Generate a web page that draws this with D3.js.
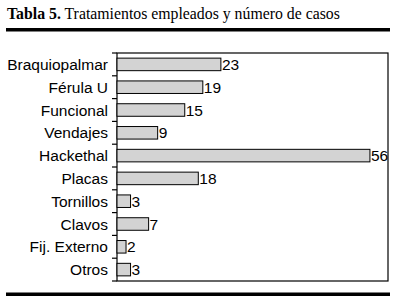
<!DOCTYPE html>
<html>
<head>
<meta charset="utf-8">
<script src="https://cdn.jsdelivr.net/npm/d3@7"></script>
<style>
  body { margin: 0; background: #fff; }
  svg { display: block; }
</style>
</head>
<body>
<div id="container"></div>
<script>
/* DATA */
const categories = ["Braquiopalmar", "Férula U", "Funcional", "Vendajes", "Hackethal",
  "Placas", "Tornillos", "Clavos", "Fij. Externo", "Otros"];
const casos = [23, 19, 15, 9, 56, 18, 3, 7, 2, 3];

const width = 398, height = 303;
const plot = { left: 117, right: 388, top: 53, bottom: 281 };

const data = categories.map((c, i) => ({ name: c, value: casos[i] }));

const svg = d3.select("#container")
  .append("svg")
  .attr("width", width)
  .attr("height", height);

// TITLE
const title = svg.append("text")
  .attr("x", 7)
  .attr("y", 19)
  .style("font-family", "'Liberation Serif', 'Times New Roman', serif")
  .style("font-size", "15.8px")
  .attr("fill", "#000");
title.append("tspan").style("font-weight", "bold").text("Tabla 5.");
title.append("tspan").text(" Tratamientos empleados y número de casos");

// THICK RULES
svg.append("rect").attr("x", 6).attr("y", 28).attr("width", 384).attr("height", 3.5).attr("fill", "#000");
svg.append("rect").attr("x", 6).attr("y", 292.5).attr("width", 384).attr("height", 3.5).attr("fill", "#000");

// SCALES
const xScale = d3.scaleLinear()
  .domain([0, 60])
  .range([plot.left, plot.right]);

const yScale = d3.scaleBand()
  .domain(categories)
  .range([plot.top, plot.bottom])
  .paddingInner(0.45)
  .paddingOuter(0.225);

const step = yScale.step();

// FRAME
svg.append("rect")
  .attr("x", plot.left)
  .attr("y", plot.top)
  .attr("width", plot.right - plot.left)
  .attr("height", plot.bottom - plot.top)
  .attr("fill", "none")
  .attr("stroke", "#000")
  .attr("stroke-width", 1.2);

// TICKS at band boundaries
svg.selectAll(".tick-line")
  .data(d3.range(categories.length + 1))
  .join("line")
  .attr("class", "tick-line")
  .attr("x1", plot.left - 5)
  .attr("x2", plot.left)
  .attr("y1", i => plot.top + i * step)
  .attr("y2", i => plot.top + i * step)
  .attr("stroke", "#000")
  .attr("stroke-width", 1.2);

// BARS
svg.selectAll(".bar")
  .data(data)
  .join("rect")
  .attr("class", "bar")
  .attr("x", xScale(0))
  .attr("y", d => yScale(d.name))
  .attr("width", d => xScale(d.value) - xScale(0))
  .attr("height", yScale.bandwidth())
  .attr("fill", "#d3d3d3")
  .attr("stroke", "#000")
  .attr("stroke-width", 1);

// CATEGORY LABELS
svg.selectAll(".cat")
  .data(data)
  .join("text")
  .attr("class", "cat")
  .attr("x", plot.left - 9)
  .attr("y", d => yScale(d.name) + yScale.bandwidth() / 2)
  .attr("dy", "0.36em")
  .attr("text-anchor", "end")
  .style("font-family", "'Liberation Sans', Arial, Helvetica, sans-serif")
  .style("font-size", "15.5px")
  .text(d => d.name);

// VALUE LABELS
svg.selectAll(".val")
  .data(data)
  .join("text")
  .attr("class", "val")
  .attr("x", d => xScale(d.value) + 1)
  .attr("y", d => yScale(d.name) + yScale.bandwidth() / 2)
  .attr("dy", "0.36em")
  .style("font-family", "'Liberation Sans', Arial, Helvetica, sans-serif")
  .style("font-size", "15.5px")
  .text(d => d.value);
</script>
</body>
</html>
